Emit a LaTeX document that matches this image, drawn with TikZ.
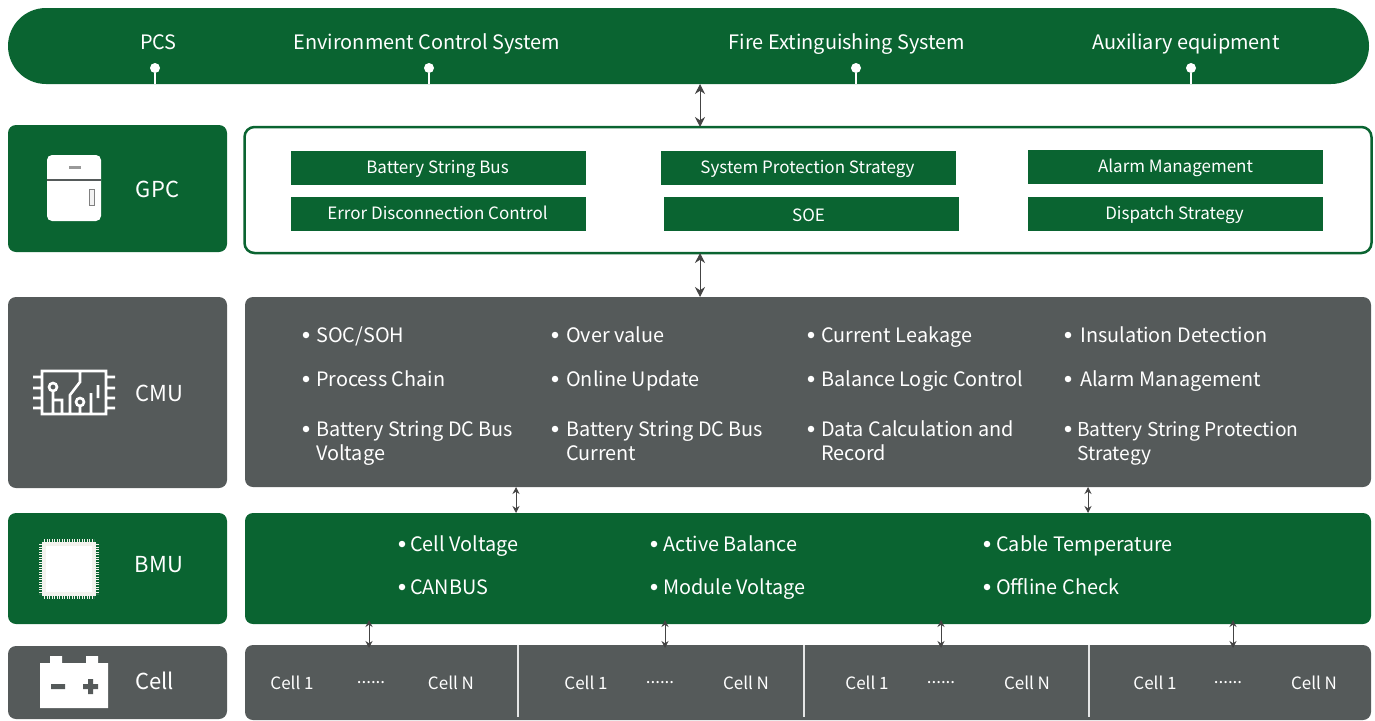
\documentclass[tikz,border=0pt]{standalone}
\usepackage{fontspec}
\setmainfont{Noto Sans CJK SC}
\usetikzlibrary{arrows.meta}
\definecolor{bmsgreen}{HTML}{0A6431}
\definecolor{bmsgray}{HTML}{555A5A}
\definecolor{arrowgray}{HTML}{444444}
\definecolor{chipwhite}{HTML}{F3F3EE}

\begin{document}
\begin{tikzpicture}[x=1pt,y=-1pt,
        block/.style={anchor=north west,inner sep=0,outer sep=0,rounded corners=8pt},
        green block/.style={block,fill=bmsgreen},
        gray block/.style={block,fill=bmsgray},
        strategy/.style={anchor=north west,inner sep=0,outer sep=0,fill=bmsgreen,text=white,minimum width=295pt,minimum height=34pt,text height=14pt,text depth=4pt,font=\fontsize{17}{20}\selectfont},
        head/.style={text=white,inner sep=0,anchor=base,font=\fontsize{19.9}{24}\selectfont},
        title/.style={text=white,inner sep=0,anchor=base,font=\fontsize{22}{26}\selectfont},
        item/.style={text=white,inner sep=0,anchor=base west,align=left,font=\fontsize{19.85}{24}\selectfont},
        cell/.style={text=white,inner sep=0,anchor=base,font=\fontsize{17}{20}\selectfont},
        pin/.style={circle,fill=white,inner sep=0,minimum size=10pt},
        dot/.style={circle,fill=white,inner sep=0,minimum size=6.5pt},
        link/.style={{Stealth[length=10pt,width=10pt]}-{Stealth[length=10pt,width=10pt]},draw=arrowgray,line width=1pt},
        thin link/.style={{Stealth[length=7pt,width=7pt]}-{Stealth[length=7pt,width=7pt]},draw=arrowgray,line width=1pt}]

    \useasboundingbox (0,0) rectangle (1375,720);

    % top bar
    \node[green block,rounded corners=38pt,minimum width=1361pt,minimum height=76pt] (top) at (8,8) {};
    \node[head] (pcs) at (158.5,49) {PCS};
    \node[head] (env) at (427,49) {Environment Control System};
    \node[head] (fire) at (847,49) {Fire Extinguishing System};
    \node[head] (aux) at (1186,49) {Auxiliary equipment};
    \node[pin] (pin1) at (155,68) {};
    \node[pin] (pin2) at (429,68) {};
    \node[pin] (pin3) at (856,68) {};
    \node[pin] (pin4) at (1191,68) {};
    \path[draw=white,line width=2.5pt]
        (pin1) edge (top.south -| pin1)
        (pin2) edge (top.south -| pin2)
        (pin3) edge (top.south -| pin3)
        (pin4) edge (top.south -| pin4)
        ;

    % left column
    \node[green block,minimum width=219pt,minimum height=127pt] (gpc) at (8,125) {};
    \node[gray block,minimum width=219pt,minimum height=191pt] (cmu) at (8,297) {};
    \node[green block,minimum width=219pt,minimum height=111pt] (bmu) at (8,513) {};
    \node[gray block,minimum width=219pt,minimum height=73pt] (cell) at (8,646) {};
    \node[title] (gpct) at (157.5,197) {GPC};
    \node[title] (cmut) at (159,401) {CMU};
    \node[title] (bmut) at (159,572) {BMU};
    \node[title] (cellt) at (154.5,689) {Cell};

    % right column
    \node[block,draw=bmsgreen,fill=white,line width=2.5pt,rounded corners=10pt,minimum width=1127pt,minimum height=126pt] (gpcp) at (244.5,127) {};
    \node[gray block,minimum width=1126pt,minimum height=190pt] (cmup) at (245,297) {};
    \node[green block,minimum width=1126pt,minimum height=111pt] (bmup) at (245,513) {};
    \node[gray block,minimum width=1126pt,minimum height=75pt] (cellp) at (245,645) {};

    % GPC strategies
    \node[strategy] (s1) at (291,151) {\hspace{-2pt}Battery String Bus};
    \node[strategy] (s2) at (291,197) {\hspace{-2pt}Error Disconnection Control};
    \node[strategy] (s3) at (661,151) {\hspace{-2pt}System Protection Strategy};
    \node[strategy] (s4) at (664,197) {\hspace{-6pt}\raisebox{-2pt}{SOE}};
    \node[strategy] (s5) at (1028,150) {Alarm Management};
    \node[strategy] (s6) at (1028,197) {\hspace{-2pt}Dispatch Strategy};

    % CMU functions
    \node[item] (c1) at (316,342) {SOC/SOH};
    \node[item] (c2) at (316,386) {Process Chain};
    \node[item] (c3) at (316,460) {Battery String DC Bus\\Voltage};
    \node[item] (c4) at (566,342) {Over value};
    \node[item] (c5) at (566,386) {Online Update};
    \node[item] (c6) at (566,460) {Battery String DC Bus\\Current};
    \node[item] (c7) at (821,342) {Current Leakage};
    \node[item] (c8) at (821,386) {Balance Logic Control};
    \node[item] (c9) at (821,460) {Data Calculation and\\Record};
    \node[item] (c10) at (1080,342) {Insulation Detection};
    \node[item] (c11) at (1080,386) {Alarm Management};
    \node[item,font=\fontsize{19.2}{24}\selectfont] (c12) at (1077,460) {Battery String Protection\\Strategy};

    % BMU functions
    \node[item] (b1) at (410,551) {Cell Voltage};
    \node[item] (b2) at (410,594) {CANBUS};
    \node[item] (b3) at (663,551) {Active Balance};
    \node[item] (b4) at (663,594) {Module Voltage};
    \node[item] (b5) at (996,551) {Cable Temperature};
    \node[item] (b6) at (996,594) {Offline Check};

    \foreach \px/\py in {306/335,306/379,306/429,555/335,555/379,555/429,811/335,811/379,811/429,1068/335,1068/379,1068/429,
            402/544,402/587,654/544,654/587,987/544,987/587}
        \node[dot] (dot\px\py) at (\px,\py) {};

    % cells
    \node[cell] (c1a) at (292,689) {Cell 1};
    \node[cell] (c1b) at (371,683) {......};
    \node[cell] (c1c) at (451,689) {Cell N};
    \node[cell] (c2a) at (586,689) {Cell 1};
    \node[cell] (c2b) at (660,683) {......};
    \node[cell] (c2c) at (746,689) {Cell N};
    \node[cell] (c3a) at (867,689) {Cell 1};
    \node[cell] (c3b) at (941,683) {......};
    \node[cell] (c3c) at (1027,689) {Cell N};
    \node[cell] (c4a) at (1155,689) {Cell 1};
    \node[cell] (c4b) at (1228,683) {......};
    \node[cell] (c4c) at (1314,689) {Cell N};
    \draw[white!85!bmsgray,line width=1.5pt] (518,645) -- (518,717) (804,645) -- (804,717) (1089,645) -- (1089,717);

    % links
    \coordinate (l1) at (700,0);
    \coordinate (l2) at (516,0);
    \coordinate (l3) at (1088,0);
    \coordinate (l4) at (369,0);
    \coordinate (l5) at (665,0);
    \coordinate (l6) at (941,0);
    \coordinate (l7) at (1233,0);
    \draw[link] (top.south -| l1) -- (gpcp.north -| l1);
    \draw[link] (gpcp.south -| l1) -- (cmup.north -| l1);
    \draw[thin link] (cmup.south -| l2) -- (bmup.north -| l2);
    \draw[thin link] (cmup.south -| l3) -- (bmup.north -| l3);
    \draw[thin link,shorten <=-4pt,shorten >=-3pt] (bmup.south -| l4) -- (cellp.north -| l4);
    \draw[thin link,shorten <=-4pt,shorten >=-3pt] (bmup.south -| l5) -- (cellp.north -| l5);
    \draw[thin link,shorten <=-4pt,shorten >=-3pt] (bmup.south -| l6) -- (cellp.north -| l6);
    \draw[thin link,shorten <=-4pt,shorten >=-3pt] (bmup.south -| l7) -- (cellp.north -| l7);

    % GPC icon
    \fill[white,rounded corners=5pt] (47,155) rectangle (101,221);
    \draw[bmsgray,line width=1.5pt] (47,180) -- (101,180);
    \fill[gray!80] (69,166) rectangle (81,169);
    \draw[gray,fill=white!90!gray,line width=0.8pt] (89.5,189) rectangle (94.5,205);

    % CMU icon
    \draw[white,line width=2.6pt]
        (42,371) rectangle (106,414)
        (33,377) -- (42,377) (33,388) -- (42,388) (33,398) -- (42,398) (33,408) -- (42,408)
        (106,377) -- (115,377) (106,388) -- (115,388) (106,398) -- (115,398) (106,408) -- (115,408)
        (53,387) circle (4)
        (53,391) -- (53,414)
        (53,400) -- (62,400) -- (62,414)
        (80,371) -- (80,382) -- (70,395) -- (70,414)
        (80,402) circle (4)
        (80,406) -- (80,414)
        (91,393) -- (91,414)
        (98,385) -- (98,398);

    % BMU icon
    \fill[chipwhite] (42,542) rectangle (96,596);
    \fill[white] (46,546) rectangle (92,592);
    \draw[chipwhite,line width=3pt,dash pattern=on 1.2pt off 1.3pt]
        (44,540.5) -- (94,540.5)
        (44,597.5) -- (94,597.5)
        (40.5,544) -- (40.5,594)
        (97.5,544) -- (97.5,594);

    % Cell icon
    \fill[white] (40,663) rectangle (108,708)
        (50,656) rectangle (62,663)
        (86,656) rectangle (98,663);
    \fill[bmsgray] (51,684) rectangle (65,689)
        (83,684) rectangle (98,689)
        (88,679) rectangle (93,694);
\end{tikzpicture}
\end{document}
